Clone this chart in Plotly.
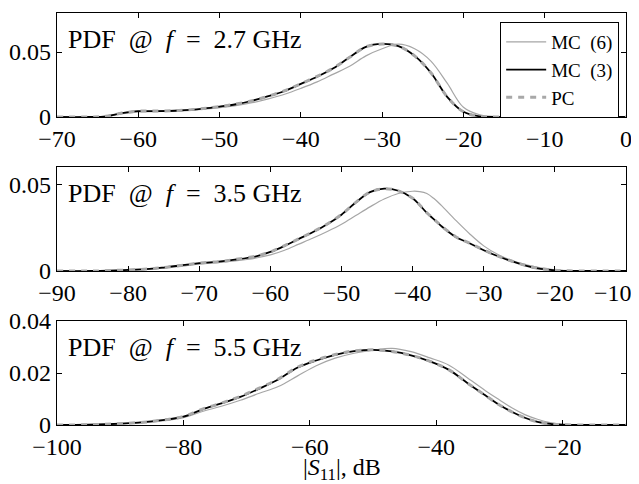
import plotly.graph_objects as go
from plotly.subplots import make_subplots

# ---------------- data ----------------
# Panel 1: f = 2.7 GHz
x1 = [-70, -66, -64, -62, -60, -58, -55, -52, -50, -48, -46, -44, -42, -40, -38, -36,
      -34, -32, -30, -28, -26, -24, -22, -20, -18, -16, -14, -10, 0]
mc6_1 = [0, 0, 0.0004, 0.0025, 0.004, 0.0042, 0.0045, 0.006, 0.0072, 0.0088, 0.011, 0.014,
         0.0175, 0.022, 0.027, 0.033, 0.039, 0.047, 0.0525, 0.056, 0.0525, 0.043, 0.026,
         0.0075, 0.0017, 0.0003, 0, 0, 0]
mc3_1 = [0, 0, 0.0005, 0.003, 0.0045, 0.0045, 0.005, 0.0065, 0.008, 0.0098, 0.0125, 0.016,
         0.020, 0.0255, 0.031, 0.0375, 0.046, 0.054, 0.0562, 0.0545, 0.047, 0.034, 0.0155,
         0.004, 0.0005, 0, 0, 0, 0]
pc_1 = [0, 0, 0.0005, 0.003, 0.0045, 0.0046, 0.005, 0.0065, 0.008, 0.0099, 0.0125, 0.016,
        0.0202, 0.0256, 0.0312, 0.0376, 0.046, 0.054, 0.0561, 0.0545, 0.047, 0.034, 0.0156,
        0.004, 0.0005, 0, 0, 0, 0]

# Panel 2: f = 3.5 GHz
x2 = [-90, -85, -80, -77, -75, -72, -70, -67, -65, -62, -60, -58, -56, -54, -52, -50, -48,
      -46, -44, -42, -40, -39, -38, -37, -36, -34, -32, -30, -28, -26, -24, -22, -20, -18,
      -15, -10]
mc6_2 = [0, 0, 0.0005, 0.001, 0.0018, 0.003, 0.004, 0.005, 0.0058, 0.0075, 0.0093, 0.012,
         0.0155, 0.019, 0.0228, 0.027, 0.032, 0.037, 0.0415, 0.0447, 0.046, 0.0458, 0.0447,
         0.0418, 0.038, 0.0295, 0.0215, 0.0145, 0.0095, 0.006, 0.0035, 0.0018, 0.0007,
         0.0002, 0, 0]
mc3_2 = [0, 0, 0.0006, 0.0012, 0.002, 0.0035, 0.0045, 0.0055, 0.0065, 0.0085, 0.011, 0.0145,
         0.0185, 0.0225, 0.027, 0.0325, 0.0395, 0.0455, 0.0475, 0.0463, 0.042, 0.038, 0.0335,
         0.0298, 0.026, 0.0198, 0.016, 0.012, 0.0085, 0.0055, 0.003, 0.0012, 0.0004, 0.0001,
         0, 0]
pc_2 = [0, 0, 0.0006, 0.0012, 0.002, 0.0035, 0.0046, 0.0055, 0.0066, 0.0086, 0.011, 0.0146,
        0.0186, 0.0226, 0.0271, 0.0326, 0.0396, 0.0455, 0.0474, 0.0462, 0.042, 0.0381,
        0.0336, 0.0299, 0.0262, 0.0199, 0.0161, 0.0121, 0.0086, 0.0056, 0.0031, 0.0013,
        0.0004, 0.0001, 0, 0]

# Panel 3: f = 5.5 GHz
x3 = [-100, -95, -90, -85, -80, -77, -74, -71, -68, -65, -62, -59, -56, -53, -50, -47, -44,
      -41, -38, -35, -32, -30, -28, -26, -24, -22, -20, -15, -10]
mc6_3 = [0, 0.0001, 0.0004, 0.0012, 0.0028, 0.0052, 0.0072, 0.0095, 0.0122, 0.0148, 0.0188,
         0.0228, 0.0257, 0.0276, 0.0288, 0.0295, 0.0282, 0.0258, 0.023, 0.018, 0.0128,
         0.0096, 0.0065, 0.004, 0.0022, 0.0009, 0.0002, 0, 0]
mc3_3 = [0, 0.0001, 0.0005, 0.0014, 0.0032, 0.006, 0.0083, 0.0108, 0.014, 0.0175, 0.022,
         0.0248, 0.027, 0.0284, 0.0289, 0.0283, 0.0268, 0.0245, 0.0212, 0.016, 0.011,
         0.0077, 0.005, 0.0028, 0.0012, 0.0004, 0.0001, 0, 0]
pc_3 = [0, 0.0001, 0.0005, 0.0014, 0.0033, 0.0061, 0.0084, 0.011, 0.0142, 0.0177, 0.0222,
        0.025, 0.0271, 0.0285, 0.0289, 0.0283, 0.0268, 0.0245, 0.0212, 0.016, 0.011,
        0.0077, 0.005, 0.0028, 0.0012, 0.0004, 0.0001, 0, 0]

# x tick values / labels
xt1 = [-70, -60, -50, -40, -30, -20, -10, 0]
xt2 = [-90, -80, -70, -60, -50, -40, -30, -20, -10]
xt3 = [-100, -80, -60, -40, -20]

def lab(v):
    return ("\u2212" + str(-v)) if v < 0 else str(v)

panels = [
    dict(x=x1, mc6=mc6_1, mc3=mc3_1, pc=pc_1, label="2.7", xr=[-70, 0], xt=xt1,
         xtt=[lab(v) for v in xt1], yr=[0, 0.08], yt=[0, 0.05], ytt=["0", "0.05"]),
    # the last label of panel 2 is drawn separately so it is not clipped at the page edge
    dict(x=x2, mc6=mc6_2, mc3=mc3_2, pc=pc_2, label="3.5", xr=[-90, -10], xt=xt2,
         xtt=[lab(v) for v in xt2[:-1]] + [""], yr=[0, 0.06], yt=[0, 0.05], ytt=["0", "0.05"]),
    dict(x=x3, mc6=mc6_3, mc3=mc3_3, pc=pc_3, label="5.5", xr=[-100, -10], xt=xt3,
         xtt=[lab(v) for v in xt3], yr=[0, 0.04], yt=[0, 0.02, 0.04], ytt=["0", "0.02", "0.04"]),
]

FONT = "Liberation Serif"
FS = 24
EN = "\u2002"

fig = make_subplots(rows=3, cols=1, vertical_spacing=50 / 412)

for i, p in enumerate(panels):
    r = i + 1
    show = (i == 0)
    fig.add_trace(go.Scatter(x=p["x"], y=p["mc6"], mode="lines", name="MC" + EN + "(6)",
                             line=dict(color="#a6a6a6", width=1.2, shape="spline"),
                             showlegend=show), row=r, col=1)
    fig.add_trace(go.Scatter(x=p["x"], y=p["mc3"], mode="lines", name="MC" + EN + "(3)",
                             line=dict(color="black", width=1.8, shape="spline"),
                             showlegend=show), row=r, col=1)
    fig.add_trace(go.Scatter(x=p["x"], y=p["pc"], mode="lines", name="PC",
                             line=dict(color="#a8a8a8", width=3, dash="6px,6px", shape="spline"),
                             showlegend=show), row=r, col=1)
    fig.update_xaxes(range=p["xr"], tickvals=p["xt"], ticktext=p["xtt"], row=r, col=1)
    fig.update_yaxes(range=p["yr"], tickvals=p["yt"], ticktext=p["ytt"], row=r, col=1)
    suffix = "" if r == 1 else str(r)
    fig.add_annotation(text="PDF" + EN + "@" + EN + "<i>f</i>" + EN + "=" + EN + p["label"] + " GHz",
                       xref="x%s domain" % suffix, yref="y%s domain" % suffix,
                       x=0.015, y=0.75, xanchor="left", yanchor="middle", showarrow=False,
                       font=dict(family=FONT, size=26, color="black"))

axis_style = dict(showline=True, linecolor="black", linewidth=1.3, mirror="ticks",
                  ticks="inside", ticklen=5, tickcolor="black", showgrid=False, zeroline=False,
                  ticklabeloverflow="allow",
                  tickfont=dict(family=FONT, size=FS, color="black"))
fig.update_xaxes(**axis_style)
fig.update_yaxes(**axis_style)

# last tick label of panel 2, right-aligned near the page edge
fig.add_annotation(text=lab(xt2[-1]), xref="x2 domain", yref="y2 domain",
                   x=(625 - 49) / 569, y=-0.215, xanchor="right", yanchor="middle",
                   showarrow=False, borderpad=0, font=dict(family=FONT, size=FS, color="black"))

fig.add_annotation(text="|<i>S</i><sub>11</sub>|, dB", xref="paper", yref="paper",
                   x=0.5, y=-0.107, xanchor="center", yanchor="middle", showarrow=False,
                   font=dict(family=FONT, size=FS, color="black"))

# the page body adds an 8px offset; the figure is sized so that the full
# picture still fits the 639x484 window
fig.update_layout(
    width=631, height=476,
    margin=dict(l=49, r=13, t=5, b=59, autoexpand=False),
    paper_bgcolor="white", plot_bgcolor="white",
    font=dict(family=FONT, size=FS, color="black"),
    legend=dict(x=0.988, y=0.978, xanchor="right", yanchor="top",
                bgcolor="white", bordercolor="black", borderwidth=1,
                font=dict(family=FONT, size=19, color="black"),
                tracegroupgap=0, itemwidth=40),
)

fig.write_html("out.html")
